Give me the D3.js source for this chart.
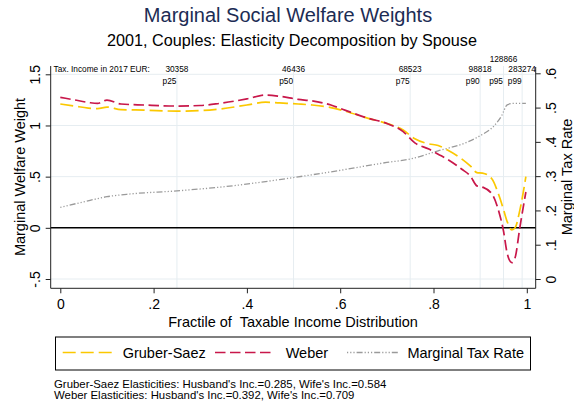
<!DOCTYPE html>
<html>
<head>
<meta charset="utf-8">
<script src="https://cdn.jsdelivr.net/npm/d3@7/dist/d3.min.js"></script>
<style>
html,body{margin:0;padding:0;background:#fff;}
svg{display:block;font-family:"Liberation Sans",Arial,Helvetica,sans-serif;}
svg text{white-space:pre;}
</style>
</head>
<body>
<svg id="chart" width="574" height="408"></svg>
<script>
// ---- data ----
const fractile = [0,0.03,0.06,0.08,0.1,0.13,0.18,0.25,0.3,0.34,0.4,0.44,0.47,0.51,0.54,0.58,0.61,0.66,0.7,0.735,0.76,0.79,0.81,0.83,0.86,0.88,0.893,0.905,0.925,0.94,0.95,0.958,0.968,0.975,0.985,0.998];
const gruberSaez = [1.21,1.19,1.17,1.165,1.18,1.155,1.15,1.14,1.145,1.16,1.2,1.228,1.22,1.21,1.2,1.175,1.14,1.07,1.02,0.955,0.87,0.82,0.805,0.76,0.675,0.60,0.54,0.535,0.48,0.32,0.18,0.06,-0.02,0.0,0.17,0.5];
const weber = [1.275,1.25,1.225,1.215,1.248,1.21,1.2,1.19,1.195,1.215,1.26,1.297,1.285,1.255,1.24,1.2,1.15,1.07,1.02,0.94,0.83,0.77,0.72,0.67,0.575,0.5,0.41,0.398,0.333,0.16,-0.03,-0.25,-0.34,-0.29,0.0,0.35];
const mtrFractile = [0,0.05,0.1,0.15,0.25,0.37,0.47,0.6,0.7,0.75,0.81,0.87,0.9,0.93,0.946,0.958,0.97,0.998];
const mtr = [0.209,0.225,0.24,0.248,0.257,0.272,0.29,0.317,0.34,0.35,0.374,0.398,0.418,0.447,0.476,0.508,0.512,0.512];

const xTicks = [0,0.2,0.4,0.6,0.8,1];
const xTickLabels = ["0",".2",".4",".6",".8","1"];
const yLeftTicks = [-0.5,0,0.5,1,1.5];
const yLeftTickLabels = ["-.5","0",".5","1","1.5"];
const yRightTicks = [0,0.1,0.2,0.3,0.4,0.5,0.6];
const yRightTickLabels = ["0",".1",".2",".3",".4",".5",".6"];
const pctPos = [0.25,0.5,0.75,0.9,0.95,0.99];
const pctLabels = ["p25","p50","p75","p90","p95","p99"];
const incomeLabels = ["30358","46436","68523","98818","128866","283274"];

const title = "Marginal Social Welfare Weights";
const subtitle = "2001, Couples: Elasticity Decomposition by Spouse";
const incomeHeader = "Tax. Income in 2017 EUR:";
const xTitle = "Fractile of  Taxable Income Distribution";
const yLeftTitle = "Marginal Welfare Weight";
const yRightTitle = "Marginal Tax Rate";
const seriesNames = ["Gruber-Saez","Weber","Marginal Tax Rate"];
const notes = ["Gruber-Saez Elasticities: Husband's Inc.=0.285, Wife's Inc.=0.584",
               "Weber Elasticities: Husband's Inc.=0.392, Wife's Inc.=0.709"];

// ---- layout ----
const svg = d3.select("#chart");
const box = {left:50.7, right:535.7, top:66, bottom:288.3};
const x = d3.scaleLinear().domain([0,1]).range([60.3,526.8]);
const yL = d3.scaleLinear().domain([-0.5,1.5]).range([279,74.3]);
const yR = d3.scaleLinear().domain([0,0.6]).range([279,73.3]);

const colGS = "#fbc800", colW = "#c8174a", colM = "#9a9a9a";
const dashGS = "13,5", dashW = "10.5,4.5", dashM = "1.2,2,1.2,2,1.2,2,6,2";
const gridCol = "#e6edf1";

// titles
svg.append("text").attr("x",288).attr("y",22).attr("text-anchor","middle")
  .attr("font-size",20).attr("fill","#1c2c54").text(title);
svg.append("text").attr("x",292).attr("y",45.5).attr("text-anchor","middle")
  .attr("font-size",16.2).attr("fill","#000").text(subtitle);

// gridlines
svg.append("g").selectAll("line").data(yLeftTicks.filter(d=>d!==0)).join("line")
  .attr("x1",box.left).attr("x2",box.right).attr("y1",d=>yL(d)).attr("y2",d=>yL(d))
  .attr("stroke",gridCol).attr("stroke-width",1);
svg.append("g").selectAll("line").data(pctPos).join("line")
  .attr("x1",d=>x(d)).attr("x2",d=>x(d)).attr("y1",box.top).attr("y2",box.bottom)
  .attr("stroke",gridCol).attr("stroke-width",1);

// zero line
svg.append("line").attr("x1",box.left).attr("x2",box.right).attr("y1",yL(0)).attr("y2",yL(0))
  .attr("stroke","#000").attr("stroke-width",1.5);

// axes
const axL = d3.axisLeft(yL).tickValues(yLeftTicks).tickSize(5).tickFormat((d,i)=>yLeftTickLabels[i]);
const gL = svg.append("g").attr("transform",`translate(${box.left},0)`).call(axL);
const axR = d3.axisRight(yR).tickValues(yRightTicks).tickSize(5).tickFormat((d,i)=>yRightTickLabels[i]);
const gR = svg.append("g").attr("transform",`translate(${box.right},0)`).call(axR);
const axB = d3.axisBottom(x).tickValues(xTicks).tickSize(5).tickFormat((d,i)=>xTickLabels[i]);
const gB = svg.append("g").attr("transform",`translate(0,${box.bottom})`).call(axB);
[gL,gR,gB].forEach(g=>{
  g.select(".domain").remove();
  g.selectAll(".tick line").attr("stroke","#222");
  g.selectAll("text").attr("font-size",14).attr("fill","#000")
    .attr("font-family","'Liberation Sans',Arial,Helvetica,sans-serif");
});
gL.selectAll(".tick text").attr("x",null).attr("dy",null).attr("text-anchor","middle")
  .attr("transform","translate(-10.7,0) rotate(-90)");
gR.selectAll(".tick text").attr("x",null).attr("dy",null).attr("text-anchor","middle")
  .attr("transform","translate(20.5,0) rotate(-90)");
gB.selectAll(".tick text").attr("y",null).attr("dy",null).attr("transform","translate(0,20.7)");

svg.append("line").attr("x1",box.left).attr("x2",box.left).attr("y1",box.top).attr("y2",box.bottom).attr("stroke","#222");
svg.append("line").attr("x1",box.right).attr("x2",box.right).attr("y1",box.top+1).attr("y2",box.bottom).attr("stroke","#222");
svg.append("line").attr("x1",box.left).attr("x2",box.right).attr("y1",box.bottom).attr("y2",box.bottom).attr("stroke","#222");

// axis titles
svg.append("text").attr("transform",`translate(25,177) rotate(-90)`).attr("text-anchor","middle")
  .attr("font-size",14.5).text(yLeftTitle);
svg.append("text").attr("transform",`translate(571.5,177) rotate(-90)`).attr("text-anchor","middle")
  .attr("font-size",14.5).text(yRightTitle);
svg.append("text").attr("x",293).attr("y",327).attr("text-anchor","middle")
  .attr("font-size",14.5).text(xTitle);

// top percentile annotations
svg.append("text").attr("x",53.5).attr("y",72).attr("font-size",8.3).text(incomeHeader);
svg.append("g").selectAll("text").data(incomeLabels).join("text")
  .attr("x",(d,i)=>x(pctPos[i])).attr("y",(d,i)=>i===4?61.5:72)
  .attr("text-anchor","middle").attr("font-size",8.3).text(d=>d);
svg.append("g").selectAll("text").data(pctLabels).join("text")
  .attr("x",(d,i)=>x(pctPos[i])-0.5).attr("y",84)
  .attr("text-anchor","end").attr("font-size",8.3).text(d=>d);

// series
const lineL = d3.line().x(d=>x(d[0])).y(d=>yL(d[1])).curve(d3.curveMonotoneX);
const lineR = d3.line().x(d=>x(d[0])).y(d=>yR(d[1])).curve(d3.curveMonotoneX);
svg.append("path").datum(mtrFractile.map((f,i)=>[f,mtr[i]])).attr("d",lineR)
  .attr("fill","none").attr("stroke",colM).attr("stroke-width",1.3).attr("stroke-dasharray",dashM);
svg.append("path").datum(fractile.map((f,i)=>[f,gruberSaez[i]])).attr("d",lineL)
  .attr("fill","none").attr("stroke",colGS).attr("stroke-width",1.7).attr("stroke-dasharray",dashGS);
svg.append("path").datum(fractile.map((f,i)=>[f,weber[i]])).attr("d",lineL)
  .attr("fill","none").attr("stroke",colW).attr("stroke-width",1.7).attr("stroke-dasharray",dashW);

// legend
const lg = svg.append("g");
lg.append("rect").attr("x",55.5).attr("y",337).attr("width",475).attr("height",33)
  .attr("fill","#fff").attr("stroke","#000").attr("stroke-width",1);
const legItems = [
  {name:seriesNames[0], col:colGS, dash:dashGS, w:1.7, x0:62.7, x1:113, tx:122.7},
  {name:seriesNames[1], col:colW, dash:dashW, w:1.7, x0:215, x1:272, tx:285.7},
  {name:seriesNames[2], col:colM, dash:dashM, w:1.3, x0:347, x1:398, tx:407.4}
];
legItems.forEach(it=>{
  lg.append("line").attr("x1",it.x0).attr("x2",it.x1).attr("y1",352.5).attr("y2",352.5)
    .attr("stroke",it.col).attr("stroke-width",it.w).attr("stroke-dasharray",it.dash);
  lg.append("text").attr("x",it.tx).attr("y",357.5).attr("font-size",14.5).text(it.name);
});

// notes
svg.append("g").selectAll("text").data(notes).join("text")
  .attr("x",54).attr("y",(d,i)=>388+i*10.8).attr("font-size",11.4).text(d=>d);
</script>
</body>
</html>
